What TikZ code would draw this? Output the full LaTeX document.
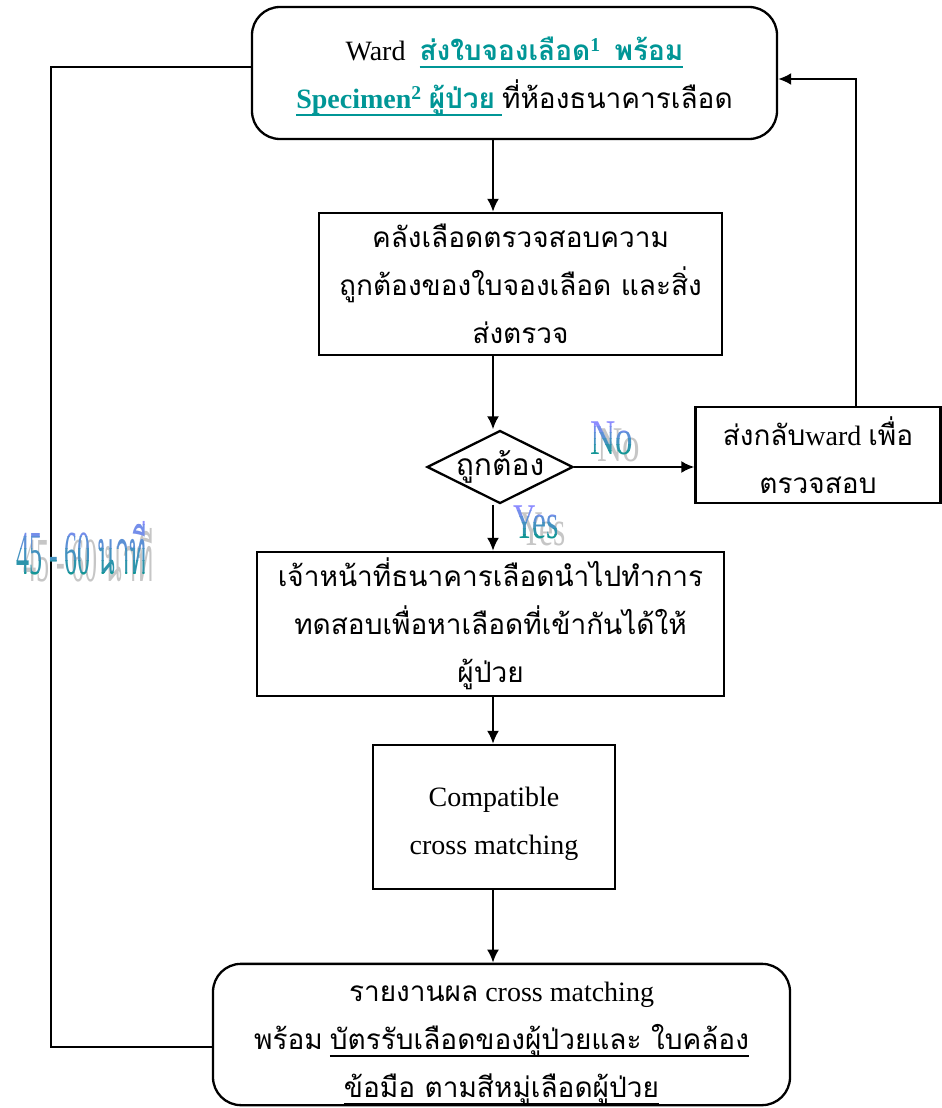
\documentclass[tikz,border=0pt]{standalone}
\usepackage{fontspec}
\setmainfont{Liberation Serif}
\newfontfamily\thaifont[Script=Thai]{Loma}
\usetikzlibrary{shapes.geometric,arrows.meta}
\definecolor{tealtx}{RGB}{0,150,150}
\definecolor{watop}{RGB}{140,140,255}
\definecolor{wabot}{RGB}{20,150,150}
\newcommand\tf[1]{{\thaifont #1}}
\newcommand\myul[1]{\setbox0\hbox{#1}\rlap{\rule[-7pt]{\wd0}{1.8pt}}\box0}
\newcommand\wordart[6]{%
  \node[#5, text=gray!45] (#1s) at (#2+7,#3+7) {#6};
  \foreach \i in {0,...,5}{%
    \pgfmathtruncatemacro\p{100-\i*20}%
    \begin{scope}
      \clip (#2-150,#3-#4+\i*#4/3) rectangle (#2+150,#3-#4+\i*#4/3+#4/3+0.5);
      \node[#5, text=watop!\p!wabot] (#1\i) at (#2,#3) {#6};
    \end{scope}
  }%
}
\tikzset{
  box/.style={draw, line width=2.3pt, align=center, inner sep=0pt,
    font=\fontsize{28}{48}\selectfont},
  rbox/.style={box, rounded corners=28pt},
  arr/.style={-{Latex[length=13pt,width=12pt]}, line width=2.3pt},
  conn/.style={line width=2.3pt},
}
\begin{document}
\begin{tikzpicture}[x=1pt,y=-1pt]
\useasboundingbox (0,0) rectangle (942,1108);
\coordinate (ax) at (493,0);
\coordinate (ll) at (51,67);
\coordinate (lb) at (51,1047);
\coordinate (fb) at (856,79);

\node[rbox, minimum width=525pt, minimum height=132pt] (top) at (514.5,73)
  {\rule{0pt}{30pt}Ward~~{\color{tealtx}\bfseries\myul{\tf{ส่งใบจองเลือด}\textsuperscript{1}~~\tf{พร้อม}}}\\
   {\color{tealtx}\bfseries\myul{Specimen\textsuperscript{2} \tf{ผู้ป่วย} }}\tf{ที่ห้องธนาคารเลือด}};
\node[box, minimum width=403pt, minimum height=142pt] (b2) at (520.5,284)
  {\tf{คลังเลือดตรวจสอบความ}\\\tf{ถูกต้องของใบจองเลือด และสิ่ง}\\\tf{ส่งตรวจ}};
\node[diamond, draw, line width=2.3pt, aspect=2, inner sep=-7pt, minimum width=146pt, minimum height=73pt,
  font=\fontsize{30}{34}\selectfont] (dia) at (500,467) {\tf{ถูกต้อง}};
\node[box, minimum width=245pt, minimum height=96pt] (rb) at (818,455)
  {\tf{ส่งกลับ}ward \tf{เพื่อ}\\\tf{ตรวจสอบ}};
\node[box, minimum width=467pt, minimum height=144pt] (b3) at (490.5,624)
  {\tf{เจ้าหน้าที่ธนาคารเลือดนำไปทำการ}\\\tf{ทดสอบเพื่อหาเลือดที่เข้ากันได้ให้}\\\tf{ผู้ป่วย}};
\node[box, minimum width=242pt, minimum height=144pt] (b4) at (494,817)
  {\rule{0pt}{34pt}Compatible\\cross matching};
\node[rbox, minimum width=577pt, minimum height=141pt] (bot) at (501.5,1034.5)
  {\rule{0pt}{38pt}\tf{รายงานผล} cross matching\\
   \tf{พร้อม} \myul{\tf{บัตรรับเลือดของผู้ป่วยและ ใบคล้อง}}\\
   \myul{\tf{ข้อมือ ตามสีหมู่เลือดผู้ป่วย}}};

\draw[arr] (top.south -| ax) -- (b2.north -| ax);
\draw[arr] (b2.south -| ax) -- (dia.north -| ax);
\draw[arr] (dia.east) -- (dia.east -| rb.west);
\draw[arr] (rb.north -| fb) -- (fb) -- (top.east |- fb);
\draw[arr] (dia.south -| ax) -- (b3.north -| ax);
\draw[arr] (b3.south -| ax) -- (b4.north -| ax);
\draw[arr] (b4.south -| ax) -- (bot.north -| ax);
\draw[conn] (top.west |- ll) -- (ll) -- (lb) -- (bot.west |- lb);

\wordart{no}{612}{438}{18}{font=\fontsize{50}{50}\selectfont, xscale=0.7, inner sep=0pt}{No}
\wordart{yes}{536}{522}{18}{font=\fontsize{50}{50}\selectfont, xscale=0.63, inner sep=0pt}{Yes}
\wordart{tm}{82}{548}{36}{font=\fontsize{58}{60}\selectfont, xscale=0.45, yscale=1.08, inner sep=0pt}{45 - 60 \tf{นาที}}
\end{tikzpicture}
\end{document}
